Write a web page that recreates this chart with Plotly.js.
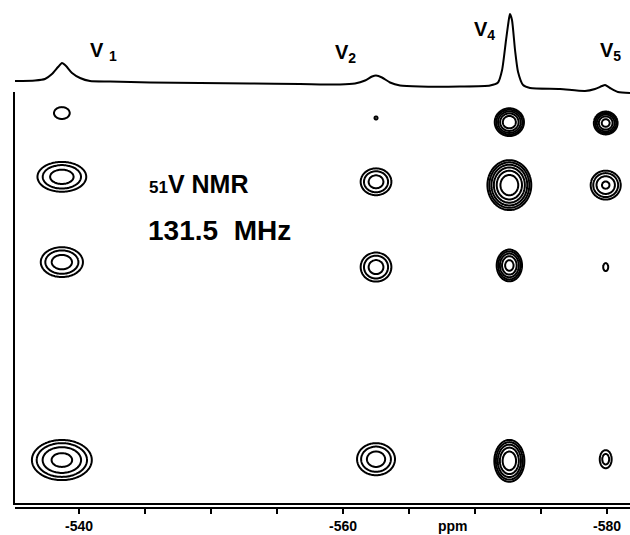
<!DOCTYPE html>
<html><head><meta charset="utf-8">
<script src="https://cdn.plot.ly/plotly-3.0.1.min.js"></script>
<style>html,body{margin:0;padding:0;background:#fff}#chart{width:630px;height:535px}</style>
</head><body><div id="chart"></div>
<script>
// ---- 1D projection spectrum (ppm, intensity) ----
const specPpm = [-535.15,-536.67,-537.42,-537.95,-538.41,-538.71,-539.02,-539.47,-540.08,-540.83,-542.35,-545.38,-549.17,-552.95,-556.74,-559.77,-560.91,-561.67,-562.20,-562.50,-562.95,-563.56,-564.32,-565.83,-568.86,-571.14,-571.74,-572.05,-572.35,-572.58,-572.65,-572.80,-573.03,-573.26,-573.64,-574.17,-576.44,-578.33,-579.09,-579.62,-579.85,-580.23,-580.83,-581.74];
const specInt = [19,19.5,21,26,33,37,34,27,22,19,18.5,17.5,17,16.5,16,15.5,16.5,19.5,23.5,24.5,22.5,17.5,14.5,13.5,13.5,14.5,17.5,30,60,82,86,80,50,28,15,12,11,9,11,14,15,12,8,7];

// ---- cross peaks (F2 ppm, F1 ppm, height, widths in ppm) ----
const peakX = [-538.7,-562.5,-572.6,-579.9, -538.7,-562.5,-572.6,-579.9, -538.7,-562.5,-572.6,-579.9, -538.7,-562.5,-572.6,-579.9];
const peakY = [-580.6,-580.0,-579.5,-579.4, -572.9,-572.3,-571.9,-571.9, -562.6,-562.0,-562.2,-562.0, -538.7,-538.8,-538.6,-538.8];
const peakHeight = [1.8,1.16,148,90, 13.5,13.5,400,24.5, 13.5,13.5,90,1.22, 30,13.5,148,4.5];
const peakWidthX = [0.55,0.21,0.35,0.30, 0.81,0.51,0.48,0.45, 0.70,0.51,0.32,0.30, 0.87,0.63,0.36,0.26];
const peakWidthY = [0.66,0.33,0.53,0.46, 0.79,0.71,0.87,0.69, 0.79,0.77,0.64,0.76, 0.93,0.85,0.80,0.63];

// ---- axis ticks / labels ----
const labelVals = [-540,-560,-580];
const labelText = ['-540','-560','-580'];
const tickStep = 5;
const peakLabels = ['V <sub>1</sub>','V<sub>2</sub>','V<sub>4</sub>','V<sub>5</sub>'];

const FONT = 'Liberation Sans, Arial, Helvetica, sans-serif';
const traces = [];

traces.push({
  type:'scatter', mode:'lines', x:specPpm, y:specInt, xaxis:'x', yaxis:'y2',
  line:{color:'black', width:2, shape:'spline', smoothing:0.6}, hoverinfo:'skip', showlegend:false
});

for (let i=0;i<peakX.length;i++){
  const A = Math.log(peakHeight[i]);
  const ext = Math.sqrt(2*Math.max(A,0.05)) + 1.0;
  const n = 61;
  const xs=[], ys=[], z=[];
  for (let k=0;k<n;k++){
    xs.push(peakX[i] + (-ext + 2*ext*k/(n-1))*peakWidthX[i]);
    ys.push(peakY[i] + (-ext + 2*ext*k/(n-1))*peakWidthY[i]);
  }
  for (let r=0;r<n;r++){
    const row=[];
    const dy=(ys[r]-peakY[i])/peakWidthY[i];
    for (let c=0;c<n;c++){
      const dx=(xs[c]-peakX[i])/peakWidthX[i];
      row.push(A - 0.5*(dx*dx+dy*dy));
    }
    z.push(row);
  }
  traces.push({
    type:'contour', x:xs, y:ys, z:z, xaxis:'x', yaxis:'y',
    autocontour:false, contours:{start:0, end:10, size:1, coloring:'none'},
    line:{color:'black', width:2, smoothing:1}, showscale:false, hoverinfo:'skip'
  });
}

const H = 508; // plot area height (pixels from top to bottom axis line)
const py = p => (H - p)/H;
const px = p => (p - 15)/615;

const annotations = [
  {text:'<span style="font-size:17px">51</span>V NMR', x:px(147), y:py(184), xanchor:'left', yanchor:'middle',
   font:{family:FONT, size:25, weight:'bold', color:'black'}},
  {text:'131.5\u00a0\u00a0MHz', x:px(146), y:py(231), xanchor:'left', yanchor:'middle',
   font:{family:FONT, size:28, weight:'bold', color:'black'}},
  {text:peakLabels[0], x:px(88), y:py(51), xanchor:'left', yanchor:'middle', font:{family:FONT,size:20,weight:'bold',color:'black'}},
  {text:peakLabels[1], x:px(333), y:py(53), xanchor:'left', yanchor:'middle', font:{family:FONT,size:20,weight:'bold',color:'black'}},
  {text:peakLabels[2], x:px(472), y:py(30), xanchor:'left', yanchor:'middle', font:{family:FONT,size:20,weight:'bold',color:'black'}},
  {text:peakLabels[3], x:px(598), y:py(51), xanchor:'left', yanchor:'middle', font:{family:FONT,size:20,weight:'bold',color:'black'}},
  {text:'ppm', x:-568.3, xref:'x', y:py(526), xanchor:'center', yanchor:'middle', font:{family:FONT,size:14,weight:'bold',color:'black'}}
].map(a=>Object.assign({showarrow:false, xref:'paper', yref:'paper'}, a));

const xr = [-535.15, -581.74];
const layout = {
  width:630, height:535, margin:{l:15, r:0, t:0, b:27},
  paper_bgcolor:'white', plot_bgcolor:'white', showlegend:false,
  xaxis:{domain:[0,1], anchor:'y', range:xr, showline:true, mirror:true, linewidth:2, linecolor:'black',
         ticks:'', showticklabels:false, showgrid:false, zeroline:false},
  xaxis3:{overlaying:'x', anchor:'free', position:0, range:xr, showline:true, linewidth:2, linecolor:'black',
          ticks:'outside', ticklen:5, tickwidth:2, tickcolor:'black', tickmode:'linear', tick0:labelVals[0], dtick:tickStep,
          showticklabels:false, showgrid:false, zeroline:false},
  xaxis4:{overlaying:'x', anchor:'free', position:0, range:xr, showline:false, ticks:'outside', ticklen:5, tickcolor:'rgba(0,0,0,0)',
          tickmode:'array', tickvals:labelVals, ticktext:labelText, ticklabelstandoff:0,
          tickfont:{family:FONT, size:14, weight:'bold', color:'black'}, showgrid:false, zeroline:false},
  yaxis:{domain:[py(503), py(94)], anchor:'x', range:[-533.51,-582.90], showline:true, linewidth:2, linecolor:'black',
         ticks:'', showticklabels:false, showgrid:false, zeroline:false},
  yaxis2:{domain:[py(100), py(5)], anchor:'x', range:[0,95], visible:false},
  annotations:annotations
};
traces.push({type:'scatter', x:[], y:[], xaxis:'x3', yaxis:'y', hoverinfo:'skip', showlegend:false});
traces.push({type:'scatter', x:[], y:[], xaxis:'x4', yaxis:'y', hoverinfo:'skip', showlegend:false});

Plotly.newPlot('chart', traces, layout, {staticPlot:true, displayModeBar:false});
</script></body></html>
